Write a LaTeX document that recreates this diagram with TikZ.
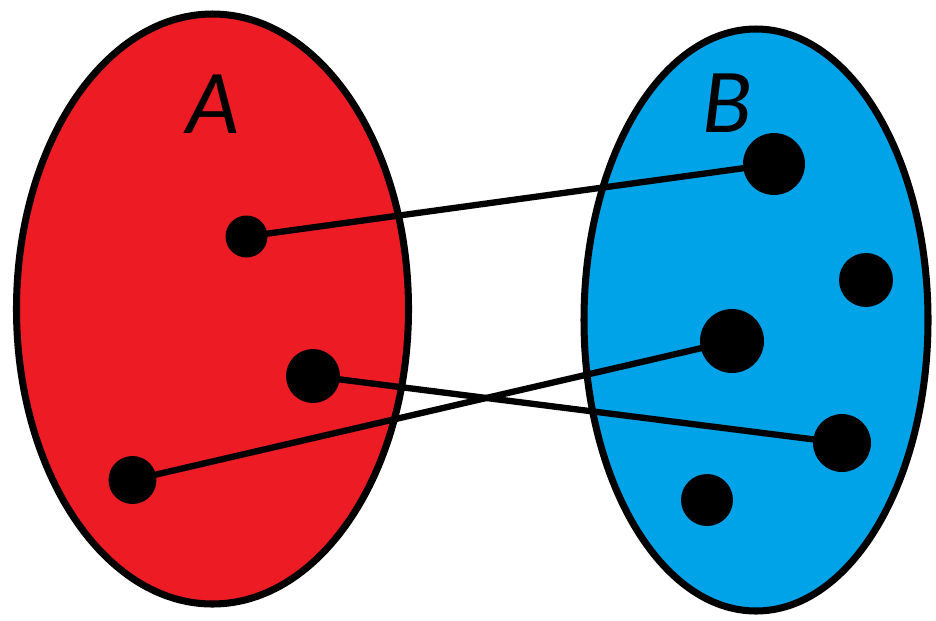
\documentclass[tikz,border=0pt]{standalone}
\usepackage{fontspec}
\setsansfont{Carlito}
\usetikzlibrary{calc}

\definecolor{setRed}{HTML}{ED1C24}
\definecolor{setBlue}{HTML}{00A2E8}

\pgfdeclarelayer{links}
\pgfsetlayers{links,main}

\begin{document}
\begin{tikzpicture}[x=0.02cm,y=-0.02cm]
        % --- 1. Define Core Parameters ---
        \def\rimWidth{4pt}
        \def\linkWidth{3.6pt}
        \tikzset{
            dot/.style={circle,fill=black,inner sep=0pt,minimum size={#1*0.04cm}},
            setlabel/.style={font=\sffamily\itshape\fontsize{52}{52}\selectfont,text=black},
            link/.style={line width=\linkWidth,black}
        }

        \useasboundingbox (0,0) rectangle (936,620);

        % --- 2. Draw the Sets ---
        \begin{pgfonlayer}{links}
        \filldraw[fill=setRed,draw=black,line width=\rimWidth] (212.5,309) ellipse [x radius=196, y radius=295];
        \filldraw[fill=setBlue,draw=black,line width=\rimWidth] (756,320) ellipse [x radius=172, y radius=291];
        \end{pgfonlayer}

        \node[setlabel] (labelA) at (213,104) {A};
        \node[setlabel] (labelB) at (727,103) {B};

        % --- 3. Elements of A ---
        \node[dot=21] (a1) at (246.5,236.5) {};
        \node[dot=27] (a2) at (313,376) {};
        \node[dot=24] (a3) at (132.5,480) {};

        % --- 4. Elements of B ---
        \node[dot=31] (b1) at (774,164) {};
        \node[dot=27] (b2) at (866,280) {};
        \node[dot=32] (b3) at (732,341) {};
        \node[dot=29] (b4) at (842,443) {};
        \node[dot=26] (b5) at (707,500) {};

        % --- 5. Mapping (behind the dots) ---
        \begin{pgfonlayer}{links}
        \draw[link] (a1.center) -- (b1.center);
        \draw[link] (a2.center) -- (b4.center);
        \draw[link] (a3.center) -- (b3.center);
        \end{pgfonlayer}

    \end{tikzpicture}
\end{document}
